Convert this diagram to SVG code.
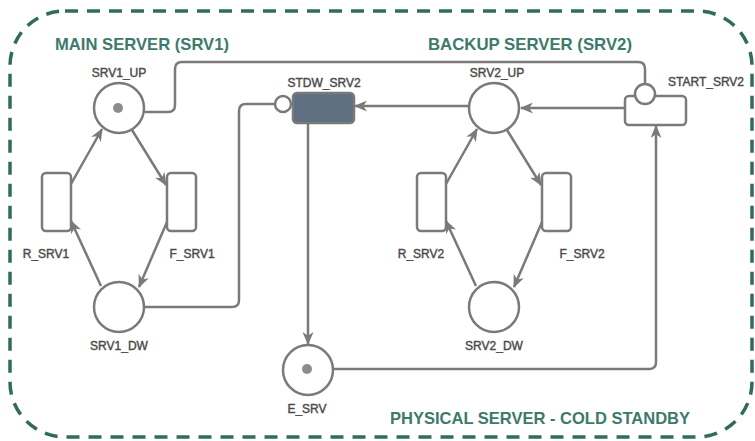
<svg xmlns="http://www.w3.org/2000/svg" width="755" height="441" viewBox="0 0 755 441">
  <defs>
    <marker id="arrow" viewBox="0 0 13 11" refX="12" refY="5.5" markerWidth="13" markerHeight="11" markerUnits="userSpaceOnUse" orient="auto">
      <path d="M0,0 L13,5.5 L0,11 L3.8,5.5 z" fill="#7a7a7a"/>
    </marker>
    <style>
      .frame { fill: none; stroke: #2f6c5e; stroke-width: 3.5; stroke-dasharray: 13 9; }
      .title { font-family: "Liberation Sans", Arial, sans-serif; font-size: 17px; font-weight: bold; fill: #3d7a6c; }
      .label { font-family: "Liberation Sans", Arial, sans-serif; font-size: 12px; fill: #4a4a4a; text-anchor: middle; stroke: #4a4a4a; stroke-width: 0.4; }
      .place { fill: #ffffff; stroke: #7a7a7a; stroke-width: 2.5; }
      .token { fill: #8c8c8c; stroke: none; }
      .trans { fill: #ffffff; stroke: #7a7a7a; stroke-width: 2.5; }
      .trans-dark { fill: #5e6f82; stroke: #7a7a7a; stroke-width: 2.5; }
      .inhib { fill: #ffffff; stroke: #7a7a7a; stroke-width: 2.5; }
      .arc { fill: none; stroke: #7a7a7a; stroke-width: 2.5; }
      .arc-arrow { fill: none; stroke: #7a7a7a; stroke-width: 2.5; marker-end: url(#arrow); }
    </style>
  </defs>
  <rect width="755" height="441" fill="#ffffff"/>

  <!-- physical server boundary -->
  <rect class="frame" x="10" y="11" width="742" height="426" rx="55" ry="55"/>
  <text class="title" x="55" y="50" textLength="174" lengthAdjust="spacingAndGlyphs">MAIN SERVER (SRV1)</text>
  <text class="title" x="428" y="50" textLength="204" lengthAdjust="spacingAndGlyphs">BACKUP SERVER (SRV2)</text>
  <text class="title" x="390" y="424" textLength="300" lengthAdjust="spacingAndGlyphs">PHYSICAL SERVER - COLD STANDBY</text>

  <!-- arcs -->
  <g id="connectors">
    <path class="arc" d="M145,112 H168 Q175,112 175,105 V69 Q175,62 182,62 H638 Q645,62 645,69 V84"/>
    <path class="arc" d="M145,307 H232 Q239,307 239,300 V111 Q239,104 246,104 H274"/>
    <path class="arc-arrow" d="M308,123 V344"/>
    <path class="arc-arrow" d="M333,369 H649 Q656,369 656,362 V126"/>
    <path class="arc-arrow" d="M625,108 H521"/>
    <path class="arc-arrow" d="M469,106 H355"/>
    <!-- SRV1 cycle -->
    <path class="arc-arrow" d="M132,130 L166,185"/>
    <path class="arc-arrow" d="M71,184 L102,129"/>
    <path class="arc-arrow" d="M167,222 L139,287"/>
    <path class="arc-arrow" d="M101,286 L71,221"/>
    <!-- SRV2 cycle -->
    <path class="arc-arrow" d="M507,130 L541,185"/>
    <path class="arc-arrow" d="M446,184 L477,129"/>
    <path class="arc-arrow" d="M542,222 L514,287"/>
    <path class="arc-arrow" d="M476,286 L446,221"/>
  </g>

  <g id="SRV1_UP">
    <circle class="place" cx="119" cy="108" r="25"/>
    <circle class="token" cx="118" cy="108" r="5"/>
    <text class="label" x="119" y="77">SRV1_UP</text>
  </g>
  <g id="SRV1_DW">
    <circle class="place" cx="119" cy="307" r="25"/>
    <text class="label" x="119" y="350">SRV1_DW</text>
  </g>
  <g id="R_SRV1">
    <rect class="trans" x="42" y="173" width="29" height="58" rx="4"/>
    <text class="label" x="46" y="258">R_SRV1</text>
  </g>
  <g id="F_SRV1">
    <rect class="trans" x="167" y="173" width="29" height="58" rx="4"/>
    <text class="label" x="192" y="258">F_SRV1</text>
  </g>

  <g id="SRV2_UP">
    <circle class="place" cx="494" cy="108" r="25"/>
    <text class="label" x="497" y="77">SRV2_UP</text>
  </g>
  <g id="SRV2_DW">
    <circle class="place" cx="494" cy="307" r="25"/>
    <text class="label" x="494" y="350">SRV2_DW</text>
  </g>
  <g id="R_SRV2">
    <rect class="trans" x="417" y="173" width="29" height="58" rx="4"/>
    <text class="label" x="421" y="258">R_SRV2</text>
  </g>
  <g id="F_SRV2">
    <rect class="trans" x="542" y="173" width="29" height="58" rx="4"/>
    <text class="label" x="582" y="258">F_SRV2</text>
  </g>

  <g id="STDW_SRV2">
    <rect class="trans-dark" x="293" y="93" width="61" height="30" rx="4"/>
    <circle class="inhib" cx="283" cy="104" r="8"/>
    <text class="label" x="324" y="87">STDW_SRV2</text>
  </g>

  <g id="START_SRV2">
    <rect class="trans" x="625" y="96" width="61" height="29" rx="4"/>
    <circle class="inhib" cx="645" cy="94" r="10"/>
    <text class="label" x="706" y="86">START_SRV2</text>
  </g>

  <g id="E_SRV">
    <circle class="place" cx="308" cy="370" r="25"/>
    <circle class="token" cx="307" cy="369" r="5"/>
    <text class="label" x="307" y="413">E_SRV</text>
  </g>
</svg>
